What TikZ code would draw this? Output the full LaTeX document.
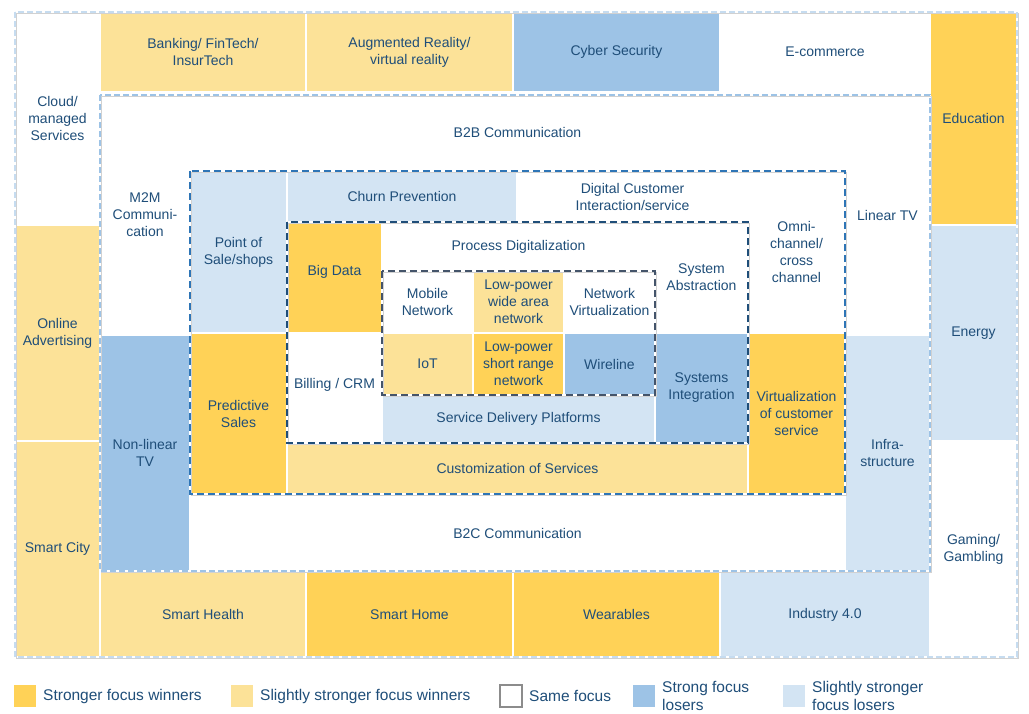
\documentclass[tikz,border=0pt]{standalone}
\usepackage{fontspec}
\setmainfont{Liberation Sans}
\usetikzlibrary{positioning}
\definecolor{winhi}{HTML}{FFD257}
\definecolor{winlo}{HTML}{FCE298}
\definecolor{losehi}{HTML}{9DC3E6}
\definecolor{loselo}{HTML}{D3E4F3}
\definecolor{txtblue}{HTML}{1F4E79}
\definecolor{ringa}{HTML}{C6DCF0}
\definecolor{ringb}{HTML}{9DC3E6}
\definecolor{ringc}{HTML}{2E75B6}
\definecolor{ringd}{HTML}{1F4E79}
\definecolor{ringe}{HTML}{44546A}
\tikzstyle{cell} = [rectangle, anchor=north west, inner sep=0pt, outer sep=0pt, draw=white, line width=1.2pt, align=center, text=txtblue, font=\fontsize{14}{17}\selectfont]
\tikzstyle{ringdash} = [line width=2.4pt, dash pattern=on 6pt off 3pt, preaction={draw=black!18, transform canvas={shift={(1.5pt,-1.5pt)}}}]
\tikzstyle{legendbox} = [rectangle, anchor=north west, minimum size=22pt, inner sep=0pt, outer sep=0pt]
\tikzstyle{keytext} = [anchor=west, inner sep=0pt, align=left, text=txtblue, font=\fontsize{15.5}{18}\selectfont]

\begin{document}
\begin{tikzpicture}[x=1pt, y=-1pt]

    \fill[white] (0,0) rectangle (1029,713);
    \useasboundingbox (0,0) rectangle (1029,713);

    % Anello esterno
    \node (cloud) [cell, fill=white, minimum width=85, minimum height=213] at (15,12) {Cloud/\\managed\\Services};
    \node (online) [cell, fill=winlo, minimum width=85, minimum height=216] at (15,225) {Online\\Advertising};
    \node (smartcity) [cell, fill=winlo, minimum width=85, minimum height=216] at (15,441) {Smart City};
    \node (bank) [cell, fill=winlo, minimum width=206, minimum height=80] at (100,12) {Banking/ FinTech/\\InsurTech};
    \node (augreal) [cell, fill=winlo, minimum width=207, minimum height=80] at (306,12) {Augmented Reality/\\virtual reality};
    \node (cyber) [cell, fill=losehi, minimum width=207, minimum height=80] at (513,12) {Cyber Security};
    \node (ecom) [cell, fill=white, minimum width=210, minimum height=80] at (720,12) {E-commerce};
    \node (edu) [cell, fill=winhi, minimum width=87, minimum height=213] at (930,12) {Education};
    \node (energy) [cell, fill=loselo, minimum width=87, minimum height=216] at (930,225) {Energy};
    \node (gaming) [cell, fill=white, minimum width=87, minimum height=216] at (930,441) {Gaming/\\Gambling};
    \node (health) [cell, fill=winlo, minimum width=206, minimum height=85] at (100,572) {Smart Health};
    \node (home) [cell, fill=winhi, minimum width=207, minimum height=85] at (306,572) {Smart Home};
    \node (wear) [cell, fill=winhi, minimum width=207, minimum height=85] at (513,572) {Wearables};
    \node (industry) [cell, fill=loselo, minimum width=210, minimum height=85] at (720,572) {Industry 4.0};

    % Comunicazione
    \node (m2m) [cell, fill=white, minimum width=90, minimum height=240] at (100,95) {M2M\\Communi-\\cation};
    \node (b2b) [cell, fill=white, minimum width=655, minimum height=75] at (190,95) {B2B Communication};
    \node (lintv) [cell, fill=white, minimum width=85, minimum height=240] at (845,95) {Linear TV};
    \node (nonlin) [cell, fill=losehi, minimum width=90, minimum height=236] at (100,335) {Non-linear\\TV};
    \node (infra) [cell, fill=loselo, minimum width=85, minimum height=236] at (845,335) {Infra-\\structure};
    \node (b2c) [cell, fill=white, minimum width=655, minimum height=76] at (190,495) {B2C Communication};

    % Clienti
    \node (pos) [cell, fill=loselo, minimum width=97, minimum height=162] at (190,171) {Point of\\Sale/shops};
    \node (churn) [cell, fill=loselo, minimum width=230, minimum height=51] at (287,171) {Churn Prevention};
    \node (digcust) [cell, fill=white, minimum width=231, minimum height=51] at (517,171) {Digital Customer\\Interaction/service};
    \node (omni) [cell, fill=white, minimum width=97, minimum height=162] at (748,171) {Omni-\\channel/\\cross\\channel};
    \node (predict) [cell, fill=winhi, minimum width=97, minimum height=161] at (190,333) {Predictive\\Sales};
    \node (virtcust) [cell, fill=winhi, minimum width=97, minimum height=161] at (748,333) {Virtualization\\of customer\\service};
    \node (custom) [cell, fill=winlo, minimum width=461, minimum height=51] at (287,443) {Customization of Services};

    % Processi
    \node (bigdata) [cell, fill=winhi, minimum width=95, minimum height=111] at (287,222) {\raisebox{14pt}{Big Data}};
    \node (billing) [cell, fill=white, minimum width=95, minimum height=110] at (287,333) {\raisebox{10pt}{Billing / CRM}};
    \node (procdig) [cell, fill=white, minimum width=273, minimum height=49] at (382,222) {Process Digitalization};
    \node (sysabs) [cell, fill=white, minimum width=93, minimum height=111] at (655,222) {System\\Abstraction};
    \node (sysint) [cell, fill=losehi, minimum width=93, minimum height=110] at (655,333) {Systems\\Integration};
    \node (sdp) [cell, fill=loselo, minimum width=273, minimum height=48] at (382,395) {Service Delivery Platforms};

    % Rete
    \node (mobile) [cell, fill=white, minimum width=91, minimum height=62] at (382,271) {Mobile\\Network};
    \node (lpwan) [cell, fill=winlo, minimum width=91, minimum height=62] at (473,271) {Low-power\\wide area\\network};
    \node (netvirt) [cell, fill=white, minimum width=91, minimum height=62] at (564,271) {Network\\Virtualization};
    \node (iot) [cell, fill=winlo, minimum width=91, minimum height=62] at (382,333) {IoT};
    \node (lpsr) [cell, fill=winhi, minimum width=91, minimum height=62] at (473,333) {Low-power\\short range\\network};
    \node (wire) [cell, fill=losehi, minimum width=91, minimum height=62] at (564,333) {Wireline};

    % Cornici tratteggiate
    \draw [ringdash, draw=ringa] (cloud.north west) rectangle (gaming.south east);
    \draw [ringdash, draw=ringb] (m2m.north west) rectangle (infra.south east);
    \draw [ringdash, draw=ringc, dash pattern=on 7pt off 4pt] (pos.north west) rectangle (virtcust.south east);
    \draw [ringdash, draw=ringd, dash pattern=on 7pt off 4pt] (bigdata.north west) rectangle (sysint.south east);
    \draw [ringdash, draw=ringe, dash pattern=on 7pt off 4pt] (mobile.north west) rectangle (wire.south east);

    % Legenda
    \node (lgwinhi) [legendbox, fill=winhi] at (14,685) {};
    \node (lgwinhitext) [keytext, right=7pt of lgwinhi] {Stronger focus winners};
    \node (lgwinlo) [legendbox, fill=winlo] at (231,685) {};
    \node (lgwinlotext) [keytext, right=7pt of lgwinlo] {Slightly stronger focus winners};
    \node (lgsame) [legendbox, draw=black!45, line width=1.5pt, fill=white] at (500,685) {};
    \node (lgsametext) [keytext, right=7pt of lgsame] {Same focus};
    \node (lglosehi) [legendbox, fill=losehi] at (633,685) {};
    \node (lglosehitext) [keytext, right=7pt of lglosehi] {Strong focus\\losers};
    \node (lgloselo) [legendbox, fill=loselo] at (783,685) {};
    \node (lgloselotext) [keytext, right=7pt of lgloselo] {Slightly stronger\\focus losers};

\end{tikzpicture}
\end{document}
